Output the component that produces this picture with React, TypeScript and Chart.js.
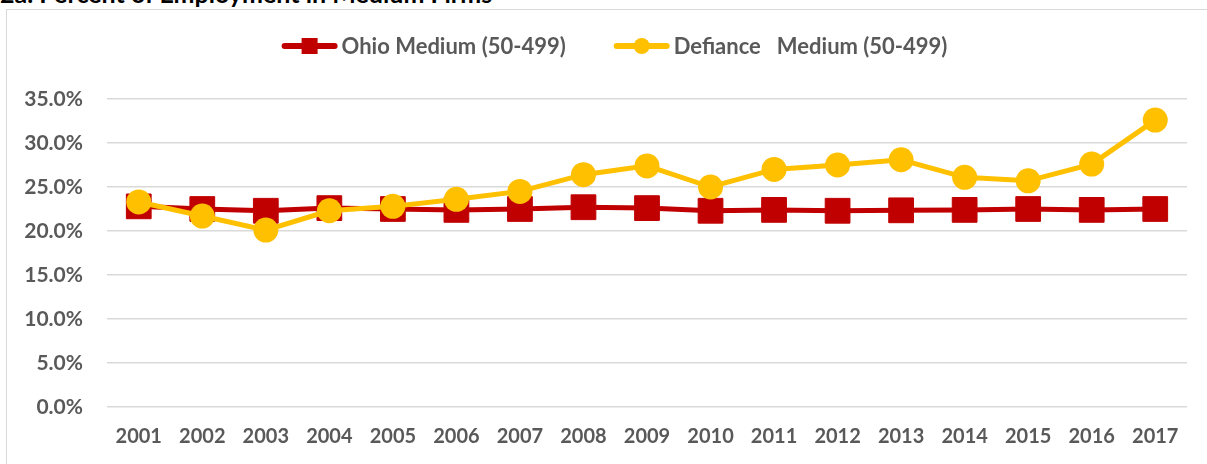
import { useEffect, useRef } from 'react';
import { Chart, registerables } from 'chart.js';

Chart.register(...registerables);

const TITLE = '2a. Percent of Employment in Medium Firms';
const YEARS = ['2001', '2002', '2003', '2004', '2005', '2006', '2007', '2008', '2009', '2010', '2011', '2012', '2013', '2014', '2015', '2016', '2017'];
const OHIO_MEDIUM = [22.8, 22.5, 22.3, 22.6, 22.5, 22.4, 22.5, 22.7, 22.6, 22.3, 22.4, 22.3, 22.35, 22.4, 22.5, 22.4, 22.5];
const DEFIANCE_MEDIUM = [23.3, 21.7, 20.1, 22.3, 22.8, 23.6, 24.5, 26.4, 27.4, 25.0, 27.0, 27.5, 28.1, 26.1, 25.7, 27.6, 32.6];
const SERIES_NAMES = ['Ohio Medium (50-499)', 'Defiance   Medium (50-499)'];
const Y_MIN = 0;
const Y_MAX = 35;
const Y_STEP = 5;

const RED = '#c00000';
const GOLD = '#ffc000';
const TEXT = '#595959';
const GRID = '#d9d9d9';
const FONT = 'Lato, "Open Sans", sans-serif';

const LEGEND_FS = 22;
const LEGEND_LINE = 56;
const LEGEND_TEXT_GAP = 4;
const LEGEND_ITEM_GAP = 48;
const LEGEND_CY = 35;
const LEGEND_CX = 606.5;

const legendPlugin = {
  id: 'excelLegend',
  afterDraw(chart: any) {
    const ctx = chart.ctx as CanvasRenderingContext2D;
    ctx.save();
    ctx.font = `bold ${LEGEND_FS}px ${FONT}`;
    ctx.textBaseline = 'middle';
    const widths = SERIES_NAMES.map((t) => LEGEND_LINE + LEGEND_TEXT_GAP + ctx.measureText(t).width);
    const total = widths.reduce((a, b) => a + b, 0) + LEGEND_ITEM_GAP * (widths.length - 1);
    let x = LEGEND_CX - total / 2;
    chart.data.datasets.forEach((ds: any, i: number) => {
      const color = ds.borderColor as string;
      const cy = LEGEND_CY;
      ctx.strokeStyle = color;
      ctx.lineWidth = 6;
      ctx.lineCap = 'round';
      ctx.beginPath();
      ctx.moveTo(x + 3, cy);
      ctx.lineTo(x + LEGEND_LINE - 3, cy);
      ctx.stroke();
      ctx.fillStyle = color;
      const mx = x + LEGEND_LINE / 2;
      if (ds.pointStyle === 'rect') {
        ctx.fillRect(mx - 8, cy - 8, 16, 16);
      } else {
        ctx.beginPath();
        ctx.arc(mx, cy, 8, 0, Math.PI * 2);
        ctx.fill();
      }
      ctx.fillStyle = TEXT;
      ctx.textAlign = 'left';
      ctx.fillText(SERIES_NAMES[i], x + LEGEND_LINE + LEGEND_TEXT_GAP, cy + 1);
      x += widths[i] + LEGEND_ITEM_GAP;
    });
    ctx.restore();
  },
};

export default function App() {
  const ref = useRef<HTMLCanvasElement>(null);

  useEffect(() => {
    if (!ref.current) return;
    const chart = new Chart(ref.current, {
      type: 'line',
      data: {
        labels: YEARS,
        datasets: [
          {
            label: SERIES_NAMES[0],
            data: OHIO_MEDIUM,
            borderColor: RED,
            backgroundColor: RED,
            borderWidth: 5,
            pointStyle: 'rect',
            pointRadius: 17.5,
            pointBorderWidth: 1,
            pointBorderColor: RED,
            pointBackgroundColor: RED,
            tension: 0,
            order: 1,
          },
          {
            label: SERIES_NAMES[1],
            data: DEFIANCE_MEDIUM,
            borderColor: GOLD,
            backgroundColor: GOLD,
            borderWidth: 5,
            pointStyle: 'circle',
            pointRadius: 12.5,
            pointBorderWidth: 0,
            pointBackgroundColor: GOLD,
            tension: 0,
            order: 0,
          },
        ],
      },
      options: {
        responsive: false,
        maintainAspectRatio: false,
        animation: false,
        layout: { padding: { left: 0, right: 20, top: 88, bottom: 0 } },
        plugins: {
          tooltip: { enabled: false },
          title: { display: false },
          legend: { display: false },
        },
        scales: {
          x: {
            offset: true,
            grid: { display: false, drawTicks: false },
            border: { display: false },
            ticks: {
              color: TEXT,
              padding: 18,
              maxRotation: 0,
              autoSkip: false,
              font: { family: FONT, size: 20, weight: 'bold' },
            },
            afterFit: (s: any) => {
              s.height = 57;
            },
          },
          y: {
            min: Y_MIN,
            max: Y_MAX,
            grid: { color: GRID, lineWidth: 1.5, drawTicks: false },
            border: { display: false },
            ticks: {
              stepSize: Y_STEP,
              color: TEXT,
              padding: 24,
              font: { family: FONT, size: 21, weight: 'bold' },
              callback: (v: any) => Number(v).toFixed(1) + '%',
            },
            afterFit: (s: any) => {
              s.width = 99;
            },
          },
        },
      },
      plugins: [legendPlugin],
    });
    return () => chart.destroy();
  }, []);

  return (
    <div style={{ position: 'fixed', left: 0, top: 0, width: 1207, height: 464, overflow: 'hidden', background: '#fff' }}>
      <div
        style={{
          position: 'absolute',
          left: 0,
          top: -19,
          whiteSpace: 'nowrap',
          fontFamily: FONT,
          fontWeight: 'bold',
          fontSize: 25,
          lineHeight: '25px',
          color: '#000',
        }}
      >
        {TITLE}
      </div>
      <div
        style={{
          position: 'absolute',
          left: 6,
          top: 9,
          width: 1230,
          height: 480,
          border: `1.5px solid ${GRID}`,
          boxSizing: 'border-box',
        }}
      />
      <canvas
        ref={ref}
        width={1199}
        height={453}
        style={{ position: 'absolute', left: 8, top: 11, width: 1199, height: 453 }}
      />
    </div>
  );
}
